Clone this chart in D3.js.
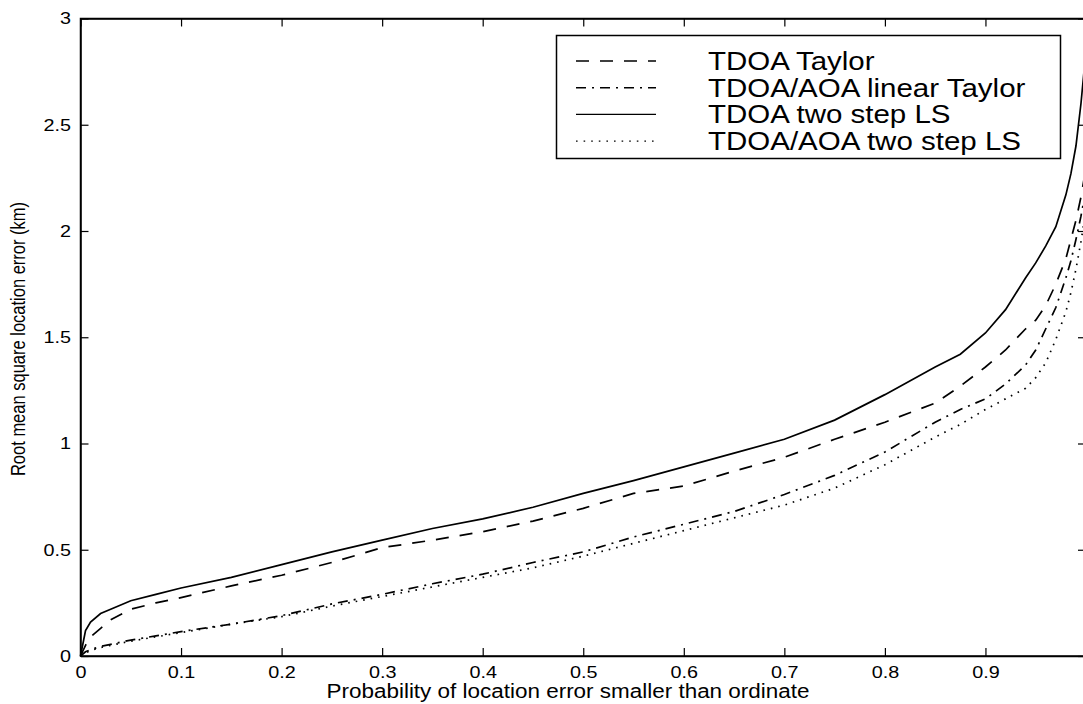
<!DOCTYPE html>
<html>
<head>
<meta charset="utf-8">
<script src="https://cdn.jsdelivr.net/npm/d3@7"></script>
<style>
  html, body { margin: 0; padding: 0; background: #fff; }
  svg { display: block; }
  text { font-family: "Liberation Sans", Arial, Helvetica, sans-serif; fill: #000; }
</style>
</head>
<body>
<svg id="chart" width="1083" height="704"></svg>
<script>
// ---- data ----
const probability = [0, 0.005, 0.01, 0.02, 0.03, 0.05, 0.075, 0.1, 0.15, 0.2, 0.25, 0.3, 0.35, 0.4, 0.45, 0.5, 0.55, 0.6, 0.65, 0.7, 0.75, 0.8, 0.85, 0.875, 0.9, 0.92, 0.94, 0.95, 0.96, 0.97, 0.98, 0.985, 0.99, 0.995, 1.0];
const tdoaTaylor      = [0, 0.05, 0.09, 0.13, 0.17, 0.22, 0.25, 0.275, 0.33, 0.38, 0.44, 0.51, 0.545, 0.585, 0.635, 0.695, 0.765, 0.80, 0.87, 0.935, 1.02, 1.10, 1.19, 1.27, 1.36, 1.44, 1.54, 1.58, 1.65, 1.75, 1.87, 1.96, 2.05, 2.16, 2.30];
const tdoaAoaLinTaylor= [0, 0.02, 0.03, 0.045, 0.055, 0.075, 0.095, 0.115, 0.15, 0.19, 0.245, 0.29, 0.34, 0.385, 0.44, 0.49, 0.56, 0.62, 0.68, 0.76, 0.85, 0.96, 1.10, 1.16, 1.21, 1.28, 1.37, 1.44, 1.54, 1.64, 1.78, 1.86, 1.96, 2.07, 2.20];
const tdoaTwoStepLS   = [0, 0.12, 0.16, 0.20, 0.22, 0.26, 0.29, 0.32, 0.37, 0.43, 0.49, 0.545, 0.60, 0.645, 0.70, 0.765, 0.825, 0.89, 0.955, 1.02, 1.11, 1.23, 1.36, 1.42, 1.52, 1.63, 1.78, 1.85, 1.93, 2.02, 2.17, 2.27, 2.40, 2.60, 2.85];
const tdoaAoaTwoStepLS= [0, 0.015, 0.025, 0.04, 0.05, 0.07, 0.09, 0.11, 0.15, 0.185, 0.235, 0.28, 0.325, 0.37, 0.415, 0.47, 0.53, 0.59, 0.65, 0.71, 0.79, 0.90, 1.03, 1.09, 1.16, 1.21, 1.26, 1.31, 1.38, 1.49, 1.62, 1.71, 1.82, 1.95, 2.10];

const seriesNames = ["TDOA Taylor", "TDOA/AOA linear Taylor", "TDOA two step LS", "TDOA/AOA two step LS"];
const seriesValues = [tdoaTaylor, tdoaAoaLinTaylor, tdoaTwoStepLS, tdoaAoaTwoStepLS];
const seriesDash = ["13,11", "10,6,2,6", null, "1.6,6"];

const xTicks = [0, 0.1, 0.2, 0.3, 0.4, 0.5, 0.6, 0.7, 0.8, 0.9];
const xTickLabels = ["0", "0.1", "0.2", "0.3", "0.4", "0.5", "0.6", "0.7", "0.8", "0.9"];
const yTicks = [0, 0.5, 1, 1.5, 2, 2.5, 3];
const yTickLabels = ["0", "0.5", "1", "1.5", "2", "2.5", "3"];

const xTitle = "Probability of location error smaller than ordinate";
const yTitle = "Root mean square location error (km)";

// ---- layout ----
const svg = d3.select("#chart");
const mLeft = 80.5, mRight = 1086, mTop = 18.5, mBottom = 656;
const x = d3.scaleLinear().domain([0, 1]).range([mLeft, mRight]);
const y = d3.scaleLinear().domain([0, 3]).range([mBottom, mTop]);
const stretch = 1.2;   // horizontal stretch of the lettering

svg.append("rect")
  .attr("x", mLeft).attr("y", mTop)
  .attr("width", mRight - mLeft).attr("height", mBottom - mTop)
  .attr("fill", "none").attr("stroke", "#000").attr("stroke-width", 1.5);

const tickFont = 16.5;

const gx = svg.append("g").attr("transform", `translate(0,${mBottom})`)
  .call(d3.axisBottom(x).tickValues(xTicks).tickSizeInner(-8).tickSizeOuter(0).tickPadding(10)
    .tickFormat((d, i) => xTickLabels[i]));
const gxt = svg.append("g").attr("transform", `translate(0,${mTop})`)
  .call(d3.axisTop(x).tickValues(xTicks).tickSizeInner(-8).tickSizeOuter(0).tickFormat(""));
const gy = svg.append("g").attr("transform", `translate(${mLeft},0)`)
  .call(d3.axisLeft(y).tickValues(yTicks).tickSizeInner(-8).tickSizeOuter(0).tickPadding(9)
    .tickFormat((d, i) => yTickLabels[i]));
const gyr = svg.append("g").attr("transform", `translate(${mRight},0)`)
  .call(d3.axisRight(y).tickValues(yTicks).tickSizeInner(-8).tickSizeOuter(0).tickFormat(""));

[gx, gxt, gy, gyr].forEach(g => {
  g.select(".domain").attr("stroke", "#000").attr("stroke-width", 1.5);
  g.selectAll(".tick line").attr("stroke", "#000").attr("stroke-width", 1.2);
  g.selectAll(".tick text").attr("font-size", tickFont)
    .attr("font-family", "Liberation Sans, Arial, sans-serif").attr("fill", "#000");
});
gx.selectAll(".tick text").attr("transform", `scale(${stretch},1)`);
gy.selectAll(".tick text").attr("x", -9.5 / stretch).attr("transform", `scale(${stretch},1)`);

svg.append("text")
  .attr("x", 568).attr("y", 698)
  .attr("text-anchor", "middle").attr("font-size", 19.5)
  .attr("textLength", 483).attr("lengthAdjust", "spacingAndGlyphs")
  .text(xTitle);

svg.append("text")
  .attr("transform", `translate(25,339) rotate(-90) scale(1,${stretch})`)
  .attr("text-anchor", "middle").attr("font-size", 16.5)
  .text(yTitle);

const line = d3.line()
  .x((d, i) => x(probability[i]))
  .y(d => y(d));

const plot = svg.append("g");
seriesValues.forEach((vals, k) => {
  plot.append("path")
    .datum(vals)
    .attr("d", line)
    .attr("fill", "none")
    .attr("stroke", "#000")
    .attr("stroke-width", 1.7)
    .attr("stroke-dasharray", seriesDash[k]);
});

const lg = svg.append("g");
lg.append("rect")
  .attr("x", 556.5).attr("y", 35.5).attr("width", 504).attr("height", 123)
  .attr("fill", "#fff").attr("stroke", "#000").attr("stroke-width", 1.5);
seriesNames.forEach((name, k) => {
  const base = 70 + k * 26.7;
  lg.append("line")
    .attr("x1", 576).attr("x2", 656).attr("y1", base - 9).attr("y2", base - 9)
    .attr("stroke", "#000").attr("stroke-width", 1.4)
    .attr("stroke-dasharray", seriesDash[k]);
  lg.append("text")
    .attr("transform", `translate(708,${base}) scale(1.18,1)`)
    .attr("font-size", 25)
    .text(name);
});
</script>
</body>
</html>
